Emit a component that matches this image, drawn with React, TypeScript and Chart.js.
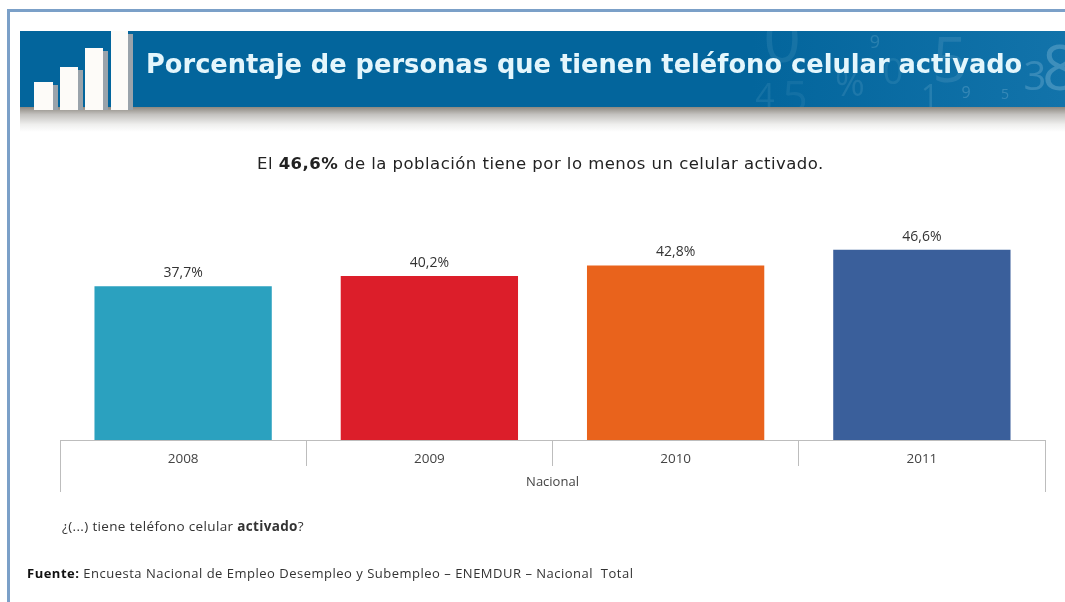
import React, { useEffect, useRef } from "react";
import { Chart, registerables } from "chart.js";

Chart.register(...registerables);

const years = ["2008", "2009", "2010", "2011"];
const values = [37.7, 40.2, 42.8, 46.6];
const valueLabels = ["37,7%", "40,2%", "42,8%", "46,6%"];
const barColors = ["#2BA1BF", "#DC1E2A", "#E9631C", "#3A5F9B"];
const groupLabel = "Nacional";
const titleText = "Porcentaje de personas que tienen teléfono celular activado";
const FONT = "'Open Sans', 'Noto Sans', sans-serif";
const TITLE_FONT = "'DejaVu Sans', sans-serif";
const bgDigits: [string, number, number, number, number][] = [
  ["0", 782, 62, 66, 0.1],
  ["%", 850, 96, 36, 0.12],
  ["9", 875, 48, 18, 0.18],
  ["0", 893, 84, 36, 0.1],
  ["5", 950, 82, 62, 0.13],
  ["4", 765, 108, 34, 0.1],
  ["5", 795, 112, 44, 0.08],
  ["1", 930, 108, 32, 0.15],
  ["9", 966, 98, 16, 0.22],
  ["5", 1005, 99, 14, 0.22],
  ["3", 1035, 90, 40, 0.22],
  ["8", 1060, 90, 62, 0.26],
  ["2", 820, 122, 20, 0.12],
  ["9", 1030, 118, 14, 0.18],
];
const iconBars: [number, number, number][] = [
  [34, 82, 19],
  [60, 67, 18],
  [85, 48, 18],
  [111, 31, 17],
];

const decorPlugin = {
  id: "decor",
  beforeDraw(chart: any) {
    const c = chart.ctx;
    c.save();
    c.fillStyle = "#ffffff";
    c.fillRect(0, 0, chart.width, chart.height);
    // page frame
    c.fillStyle = "#7BA0C8";
    c.fillRect(7, 9, 1058, 3);
    c.fillRect(7, 9, 3, 593);
    // banner shadow
    const sh = c.createLinearGradient(0, 107, 0, 132);
    sh.addColorStop(0, "#8d8880");
    sh.addColorStop(0.3, "#c4c2bf");
    sh.addColorStop(0.7, "#efefee");
    sh.addColorStop(1, "#ffffff");
    c.fillStyle = sh;
    c.fillRect(20, 107, 1045, 25);
    // banner
    const band = c.createLinearGradient(20, 0, 1065, 0);
    band.addColorStop(0, "#03659C");
    band.addColorStop(0.7, "#03659C");
    band.addColorStop(1, "#1273AA");
    c.fillStyle = band;
    c.fillRect(20, 31, 1045, 76);
    // faint numerals behind the title
    c.save();
    c.beginPath();
    c.rect(20, 31, 1045, 76);
    c.clip();
    c.textAlign = "center";
    c.textBaseline = "alphabetic";
    bgDigits.forEach(([t, x, y, s, a]) => {
      c.fillStyle = `rgba(190,225,240,${a})`;
      c.font = `${s}px ${FONT}`;
      c.fillText(t, x, y);
    });
    c.restore();
    // icon bars
    iconBars.forEach(([x, top, w]) => {
      c.fillStyle = "#9aa3ab";
      c.fillRect(x + w, top + 3, 5, 110 - top - 3);
      c.fillStyle = "#FDFBF8";
      c.fillRect(x, top, w, 110 - top);
    });
    // title
    c.fillStyle = "#E4F6FC";
    c.font = `bold 25.7px ${TITLE_FONT}`;
    c.textAlign = "left";
    c.textBaseline = "middle";
    c.fillText(titleText, 146, 66);
    // subtitle with a bold run
    c.fillStyle = "#222222";
    c.letterSpacing = "0.47px";
    const parts: [string, boolean][] = [
      ["El ", false],
      ["46,6%", true],
      [" de la población tiene por lo menos un celular activado.", false],
    ];
    let sx = 257;
    parts.forEach(([t, b]) => {
      c.font = `${b ? "bold " : ""}16.5px ${TITLE_FONT}`;
      c.fillText(t, sx, 165);
      sx += c.measureText(t).width;
    });
    // question
    c.fillStyle = "#333333";
    c.letterSpacing = "0.35px";
    let qx = 62;
    const q: [string, boolean][] = [
      ["¿(...) tiene teléfono celular ", false],
      ["activado", true],
      ["?", false],
    ];
    q.forEach(([t, b]) => {
      c.font = `${b ? "bold " : ""}13.5px ${FONT}`;
      c.fillText(t, qx, 527);
      qx += c.measureText(t).width;
    });
    // source
    c.letterSpacing = "0.5px";
    let fx = 27;
    const f: [string, boolean][] = [
      ["Fuente: ", true],
      ["Encuesta Nacional de Empleo Desempleo y Subempleo – ENEMDUR – Nacional  Total", false],
    ];
    f.forEach(([t, b]) => {
      c.font = `${b ? "bold " : ""}13px ${FONT}`;
      c.fillStyle = b ? "#111111" : "#333333";
      c.fillText(t, fx, 574);
      fx += c.measureText(t).width;
    });
    c.letterSpacing = "0px";
    c.restore();
  },
  afterDatasetsDraw(chart: any) {
    const c = chart.ctx;
    const meta = chart.getDatasetMeta(0);
    const xs = chart.scales.x;
    c.save();
    // value labels
    c.fillStyle = "#333333";
    c.font = `14px ${FONT}`;
    c.textAlign = "center";
    c.textBaseline = "alphabetic";
    meta.data.forEach((el: any, i: number) => {
      c.fillText(valueLabels[i], el.x, el.y - 9);
    });
    // outer edges of the two-level category axis
    c.strokeStyle = "#BDBDBD";
    c.lineWidth = 1;
    [xs.left, xs.right].forEach((x: number) => {
      c.beginPath();
      c.moveTo(Math.round(x) + 0.5, xs.top);
      c.lineTo(Math.round(x) + 0.5, xs.top + 52);
      c.stroke();
    });
    c.restore();
  },
};

export default function App() {
  const ref = useRef<HTMLCanvasElement>(null);
  useEffect(() => {
    document.body.style.margin = "0";
    const chart = new Chart(ref.current!, {
      type: "bar",
      data: {
        labels: years,
        datasets: [
          {
            data: values,
            backgroundColor: barColors,
            barPercentage: 0.72,
            categoryPercentage: 1,
          },
        ],
      },
      options: {
        animation: false,
        responsive: false,
        layout: { padding: { left: 60, right: 20, top: 236, bottom: 110 } },
        plugins: { legend: { display: false }, tooltip: { enabled: false } },
        scales: {
          y: { display: false, min: 0, max: 50 },
          x: {
            afterFit(scale: any) {
              scale.height = 52;
            },
            border: { display: true, color: "#BDBDBD" },
            grid: {
              display: true,
              drawOnChartArea: false,
              drawTicks: true,
              tickLength: 26,
              color: "#BDBDBD",
              offset: true,
            },
            ticks: {
              color: "#444444",
              font: { family: FONT, size: 13.5 },
              padding: -15,
              maxRotation: 0,
            },
            title: {
              display: true,
              text: groupLabel,
              color: "#444444",
              font: { family: FONT, size: 13 },
              padding: { top: 0, bottom: 2 },
            },
          },
        },
      },
      plugins: [decorPlugin],
    } as any);
    return () => chart.destroy();
  }, []);
  return (
    <canvas
      ref={ref}
      width={1065}
      height={602}
      style={{ display: "block", filter: "blur(0.35px)" }}
    />
  );
}
